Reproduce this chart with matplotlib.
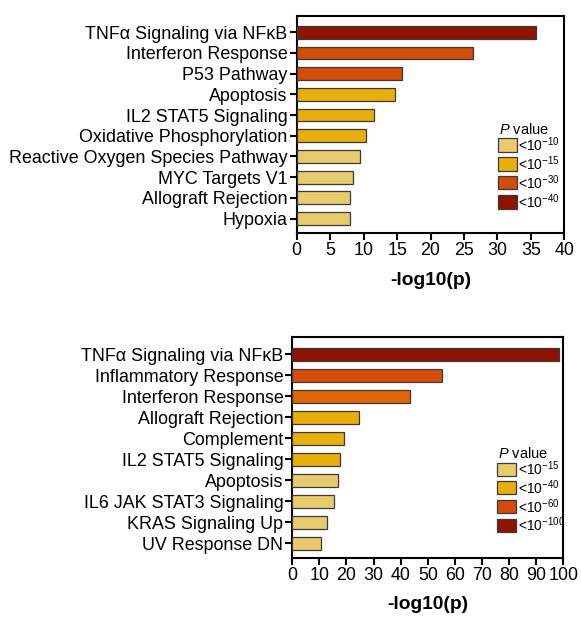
import matplotlib
matplotlib.use("Agg")
import matplotlib.pyplot as plt
from matplotlib.patches import Rectangle

plt.rcParams["font.family"] = ["Liberation Sans", "DejaVu Sans"]
plt.rcParams["mathtext.fontset"] = "custom"
plt.rcParams["mathtext.rm"] = "Liberation Sans"
plt.rcParams["mathtext.it"] = "Liberation Sans:italic"

# Upper panel: hallmark pathways
top_terms = ["TNFα Signaling via NFκB", "Interferon Response", "P53 Pathway",
             "Apoptosis", "IL2 STAT5 Signaling", "Oxidative Phosphorylation",
             "Reactive Oxygen Species Pathway", "MYC Targets V1",
             "Allograft Rejection", "Hypoxia"]
top_values = [35.8, 26.3, 15.7, 14.7, 11.6, 10.3, 9.4, 8.4, 7.9, 7.9]
top_levels = [3, 2, 2, 1, 1, 1, 0, 0, 0, 0]
top_legend = ["<10$^{-10}$", "<10$^{-15}$", "<10$^{-30}$", "<10$^{-40}$"]
top_xticks = [0, 5, 10, 15, 20, 25, 30, 35, 40]

# Lower panel
bot_terms = ["TNFα Signaling via NFκB", "Inflammatory Response",
             "Interferon Response", "Allograft Rejection", "Complement",
             "IL2 STAT5 Signaling", "Apoptosis", "IL6 JAK STAT3 Signaling",
             "KRAS Signaling Up", "UV Response DN"]
bot_values = [98.3, 55.1, 43.4, 24.6, 19.2, 17.7, 16.7, 15.4, 12.9, 10.7]
bot_legend = ["<10$^{-15}$", "<10$^{-40}$", "<10$^{-60}$", "<10$^{-100}$"]
bot_xticks = [0, 10, 20, 30, 40, 50, 60, 70, 80, 90, 100]

level_colors = ["#E8CB6E", "#E8AE0B", "#D34C08", "#8E1300"]
bot_bar_colors = ["#8E1300", "#D34C08", "#E06508", "#E8AE0B", "#E8AE0B",
                  "#E8AE0B", "#E8CB6E", "#E8CB6E", "#E8CB6E", "#E8CB6E"]

W, H = 581, 624
fig = plt.figure(figsize=(W / 100, H / 100), dpi=100)


def px(x, y):
    """Pixel position (from top-left) to figure fraction."""
    return x / W, 1 - y / H


def key(x0, y_title, step, labels):
    """Colour key: title, then swatches with their p-value thresholds."""
    tx, ty = px(x0 + 26, y_title)
    fig.text(tx, ty, "$\\it{P}$ value", fontsize=10.5, ha="center",
             va="center")
    for i, (c, lab) in enumerate(zip(level_colors, labels)):
        yc = y_title + 15 + i * step
        rx, ry = px(x0, yc + 6.5)
        fig.patches.append(Rectangle((rx, ry), 19 / W, 13 / H,
                                     transform=fig.transFigure,
                                     facecolor=c, edgecolor="#3a3a3a",
                                     linewidth=0.9))
        lx, ly = px(x0 + 20.5, yc)
        fig.text(lx, ly, lab, fontsize=10, ha="left", va="center")


def panel(rect, terms, values, colors, xticks):
    ax = fig.add_axes(rect)
    y = list(range(len(terms)))
    ax.barh(y, values, height=0.62, color=colors, edgecolor="#3a3a3a",
            linewidth=0.9, zorder=3)
    ax.set_yticks(y)
    ax.set_yticklabels(terms, fontsize=12.9)
    ax.set_ylim(len(terms) - 0.3, -0.8)
    ax.set_xlim(0, xticks[-1])
    ax.set_xticks(xticks)
    ax.set_xticklabels([str(t) for t in xticks], fontsize=12.9)
    for s in ax.spines.values():
        s.set_linewidth(1.5)
        s.set_color("black")
    ax.tick_params(axis="both", width=1.5, length=5, direction="out", pad=1.5)
    ax.set_xlabel("-log10(p)", fontsize=13.8, fontweight="bold", labelpad=9)
    return ax


panel([0.5107, 0.6266, 0.4606, 0.3482], top_terms, top_values,
      [level_colors[i] for i in top_levels], top_xticks)
key(498, 130, 19, top_legend)

panel([0.5031, 0.1062, 0.4664, 0.3532], bot_terms, bot_values,
      bot_bar_colors, bot_xticks)
key(497, 454, 18.7, bot_legend)

fig.savefig("out.png", dpi=100)
